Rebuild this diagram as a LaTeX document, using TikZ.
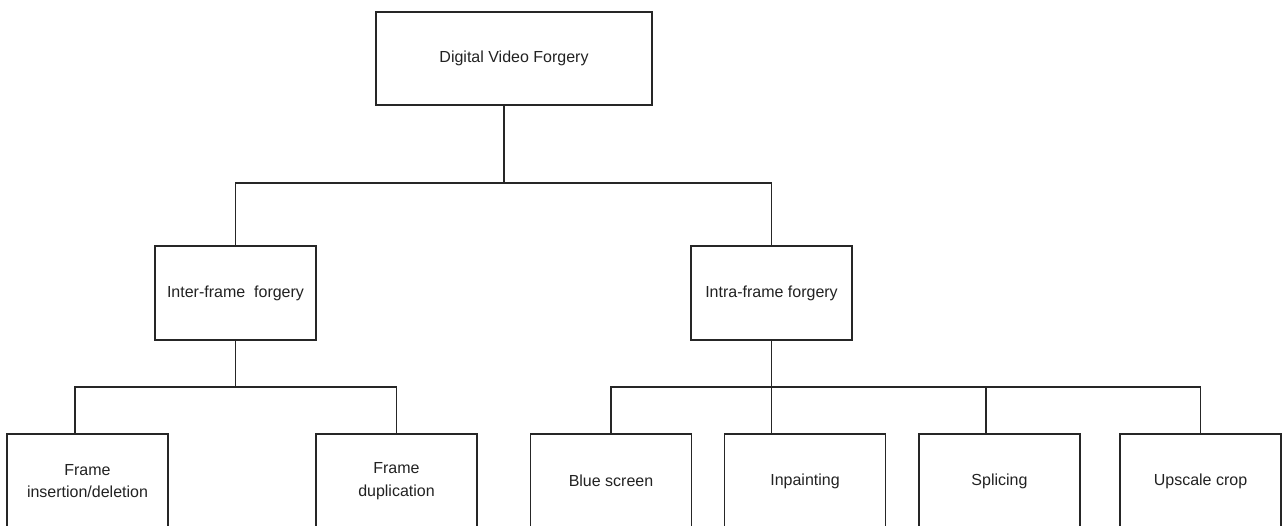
\documentclass[tikz,border=0pt]{standalone}
\usepackage{fontspec}
\setmainfont{Liberation Sans}
\definecolor{linecol}{HTML}{262626}
\definecolor{textcol}{HTML}{222222}
\begin{document}
\begin{tikzpicture}[x=1pt,y=-1pt,
  box/.style={draw=linecol, line width=1.3pt, rectangle, inner sep=2pt,
    minimum width=161pt, minimum height=94pt, align=center, text=textcol,
    font={\fontsize{16}{22.5}\selectfont}},
  conn/.style={draw=linecol, line width=1.3pt}]
\path[use as bounding box, clip] (0,0) rectangle (1282,526);
\fill[white] (0,0) rectangle (1282,526);
% nodes
\node[box, minimum width=276pt, minimum height=93pt] (top) at (514,58.5) {Digital Video Forgery};
\node[box] (inter) at (235.5,293) {Inter-frame\ \ forgery};
\node[box] (intra) at (771.5,293) {Intra-frame forgery};
\node[box] (fid) at (87.5,481) {Frame\\insertion/deletion};
\node[box] (fdup) at (396.5,481) {Frame\\duplication};
\node[box] (blue) at (611,481) {Blue screen};
\node[box] (inpaint) at (805,481) {Inpainting};
\node[box] (splice) at (999.5,481) {Splicing};
\node[box] (upscale) at (1200.5,481) {Upscale crop};
% junctions
\coordinate (j0) at (504,183);
\coordinate (j1) at (235.5,387);
\coordinate (j2) at (771.5,387);
\coordinate (c1) at (75,387);
\coordinate (c3) at (986,387);
% connectors
\draw[conn] (top.south -| j0) -- (j0);
\draw[conn] (inter.north) |- (j0) -| (intra.north);
\draw[conn] (inter.south) -- (j1);
\draw[conn] (fid.north -| c1) -- (c1) -- (j1) -| (fdup.north);
\draw[conn] (intra.south) -- (j2);
\draw[conn] (blue.north) |- (j2) -| (upscale.north);
\draw[conn] (j2) -- (inpaint.north -| j2);
\draw[conn] (c3) -- (splice.north -| c3);
\end{tikzpicture}
\end{document}
